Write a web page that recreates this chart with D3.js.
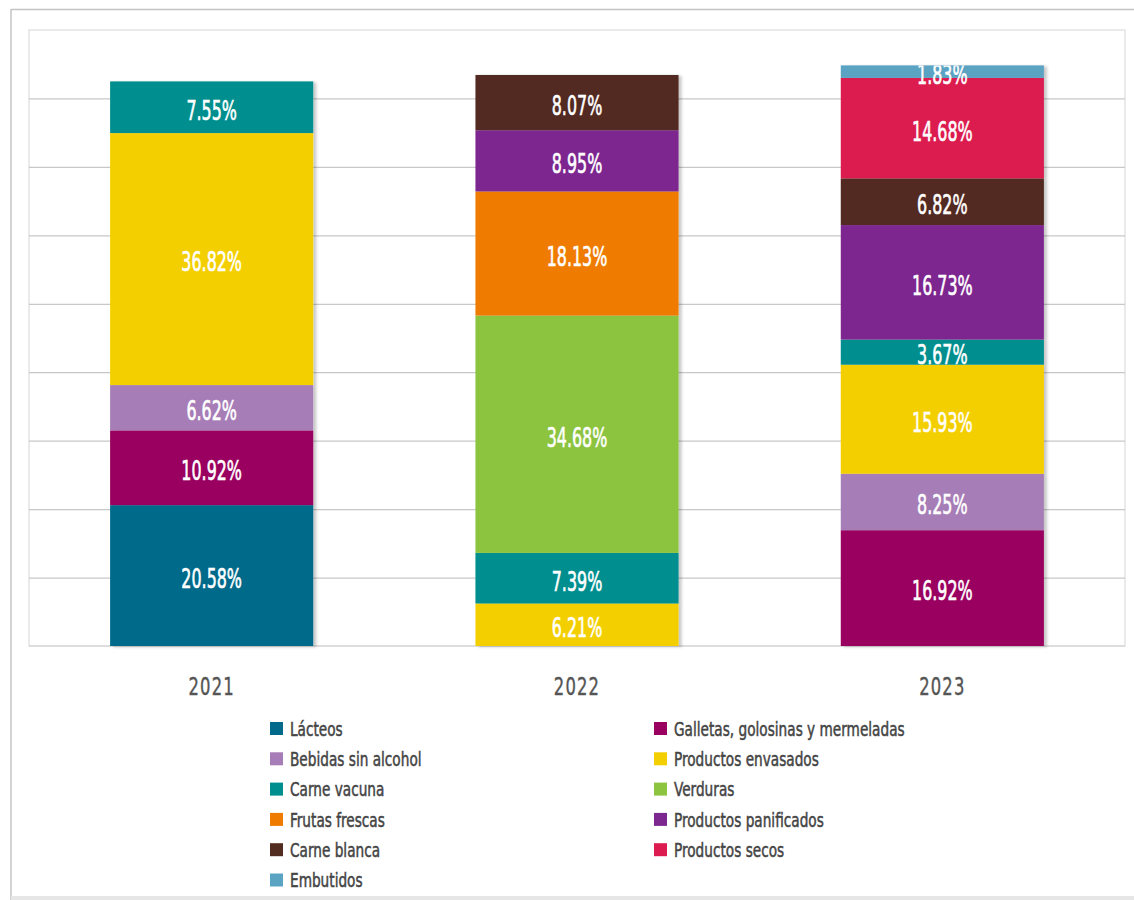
<!DOCTYPE html>
<html>
<head>
<meta charset="utf-8">
<script src="https://cdn.jsdelivr.net/npm/d3@7"></script>
<style>
  html, body { margin: 0; padding: 0; background: #fff; }
  svg { display: block; }
  text { font-family: "Liberation Sans Narrow", "DejaVu Sans Condensed", "Roboto", sans-serif; }
</style>
</head>
<body>
<svg id="chart" width="1134" height="900"></svg>
<script>
// Years on the x axis
const years = ["2021", "2022", "2023"];

// Product categories in stacking order (bottom to top) and legend order
const categories = [
  "Lácteos",
  "Galletas, golosinas y mermeladas",
  "Bebidas sin alcohol",
  "Productos envasados",
  "Carne vacuna",
  "Verduras",
  "Frutas frescas",
  "Productos panificados",
  "Carne blanca",
  "Productos secos",
  "Embutidos"
];

// Share (%) of each category per year: [2021, 2022, 2023]; 0 = not present
const lacteos     = [20.58, 0, 0];
const galletas    = [10.92, 0, 16.92];
const bebidas     = [6.62, 0, 8.25];
const envasados   = [36.82, 6.21, 15.93];
const carneVacuna = [7.55, 7.39, 3.67];
const verduras    = [0, 34.68, 0];
const frutas      = [0, 18.13, 0];
const panificados = [0, 8.95, 16.73];
const carneBlanca = [0, 8.07, 6.82];
const secos       = [0, 0, 14.68];
const embutidos   = [0, 0, 1.83];

const seriesValues = [lacteos, galletas, bebidas, envasados, carneVacuna,
  verduras, frutas, panificados, carneBlanca, secos, embutidos];

const colors = ["#006a8b", "#9a005f", "#a67db6", "#f4cf00", "#008f8e",
  "#8cc43f", "#ef7c00", "#7d2890", "#522c21", "#dc1b50", "#5aa3c3"];

// Rows for d3.stack
const rows = years.map((y, i) => {
  const r = { year: y };
  categories.forEach((c, k) => { r[c] = seriesValues[k][i]; });
  return r;
});

const svg = d3.select("#chart");

// Outer frame
svg.append("line").attr("x1", 11).attr("x2", 1134).attr("y1", 9.5).attr("y2", 9.5)
  .attr("stroke", "#c4c4c4").attr("stroke-width", 1.5);
svg.append("line").attr("x1", 11).attr("x2", 11).attr("y1", 9).attr("y2", 900)
  .attr("stroke", "#c4c4c4").attr("stroke-width", 1.5);
svg.append("rect").attr("x", 11).attr("y", 896).attr("width", 1123).attr("height", 4)
  .attr("fill", "#e6e6e6");

// Plot area
const plot = { left: 29, top: 30, right: 1125, bottom: 646 };

const x = d3.scaleBand().domain(years).range([plot.left, plot.right])
  .paddingInner(0.444).paddingOuter(0.222);
const y = d3.scaleLinear().domain([0, 90]).range([plot.bottom, plot.top]);

// Plot frame
svg.append("rect")
  .attr("x", plot.left).attr("y", plot.top)
  .attr("width", plot.right - plot.left).attr("height", plot.bottom - plot.top)
  .attr("fill", "none").attr("stroke", "#dcdcdc").attr("stroke-width", 1.2);

// Horizontal gridlines
svg.append("g")
  .attr("transform", `translate(${plot.left},0)`)
  .call(d3.axisLeft(y).tickValues(d3.range(10, 90, 10)).tickSize(-(plot.right - plot.left)).tickFormat(""))
  .call(g => g.select(".domain").remove())
  .call(g => g.selectAll("line").attr("stroke", "#c8c8c8").attr("stroke-width", 1.2));

// Bottom baseline
svg.append("line").attr("x1", plot.left).attr("x2", plot.right)
  .attr("y1", plot.bottom).attr("y2", plot.bottom)
  .attr("stroke", "#d0d0d0").attr("stroke-width", 1.2);

// Soft shadow on the bars
const defs = svg.append("defs");
const f = defs.append("filter").attr("id", "shadow")
  .attr("x", "-5%").attr("y", "-5%").attr("width", "115%").attr("height", "115%");
f.append("feDropShadow").attr("dx", 3).attr("dy", 1).attr("stdDeviation", 1.5)
  .attr("flood-color", "#000").attr("flood-opacity", 0.22);

const stack = d3.stack().keys(categories);
const stacked = stack(rows);

// Clip labels to each column's stack
years.forEach((yr, i) => {
  const total = d3.sum(seriesValues, s => s[i]);
  defs.append("clipPath").attr("id", "clip" + yr)
    .append("rect")
    .attr("x", x(yr)).attr("y", y(total))
    .attr("width", x.bandwidth()).attr("height", y(0) - y(total));
});

const barsG = svg.append("g").attr("filter", "url(#shadow)");
stacked.forEach((layer, k) => {
  barsG.selectAll(null)
    .data(layer.filter(d => d[1] - d[0] > 0))
    .join("rect")
    .attr("x", d => x(d.data.year))
    .attr("y", d => y(d[1]))
    .attr("width", x.bandwidth())
    .attr("height", d => y(d[0]) - y(d[1]))
    .attr("fill", colors[k]);
});

// Value labels
stacked.forEach((layer) => {
  layer.filter(d => d[1] - d[0] > 0).forEach(d => {
    const cx = x(d.data.year) + x.bandwidth() / 2;
    const cy = (y(d[0]) + y(d[1])) / 2 + 3;
    svg.append("g")
      .attr("clip-path", `url(#clip${d.data.year})`)
      .append("text")
      .attr("transform", `translate(${cx},${cy}) scale(0.68,1)`)
      .attr("text-anchor", "middle")
      .attr("dominant-baseline", "central")
      .attr("fill", "#fff")
      .attr("stroke", "#fff")
      .attr("stroke-width", 0.6)
      .attr("font-size", 26)
      .text((d[1] - d[0]).toFixed(2) + "%");
  });
});

// X axis labels
svg.append("g").selectAll("text")
  .data(years)
  .join("text")
  .attr("transform", d => `translate(${x(d) + x.bandwidth() / 2},${695}) scale(0.76,1)`)
  .attr("text-anchor", "middle")
  .attr("fill", "#555")
  .attr("stroke", "#555")
  .attr("stroke-width", 0.4)
  .attr("font-size", 24)
  .attr("letter-spacing", 1.5)
  .text(d => d);

// Legend: two columns, rows filled left then right
const legendCols = [270, 654];
const legendTop = 729;
const legendStep = 30.3;
const legend = svg.append("g");
categories.forEach((c, k) => {
  const col = k % 2;
  const row = Math.floor(k / 2);
  const lx = legendCols[col];
  const ly = legendTop + row * legendStep;
  legend.append("rect")
    .attr("x", lx).attr("y", ly - 7)
    .attr("width", 13).attr("height", 13)
    .attr("fill", colors[k]);
  legend.append("text")
    .attr("transform", `translate(${lx + 20},${ly}) scale(0.76,1)`)
    .attr("dominant-baseline", "central")
    .attr("fill", "#444")
    .attr("stroke", "#444")
    .attr("stroke-width", 0.5)
    .attr("font-size", 20)
    .text(c);
});
</script>
</body>
</html>
